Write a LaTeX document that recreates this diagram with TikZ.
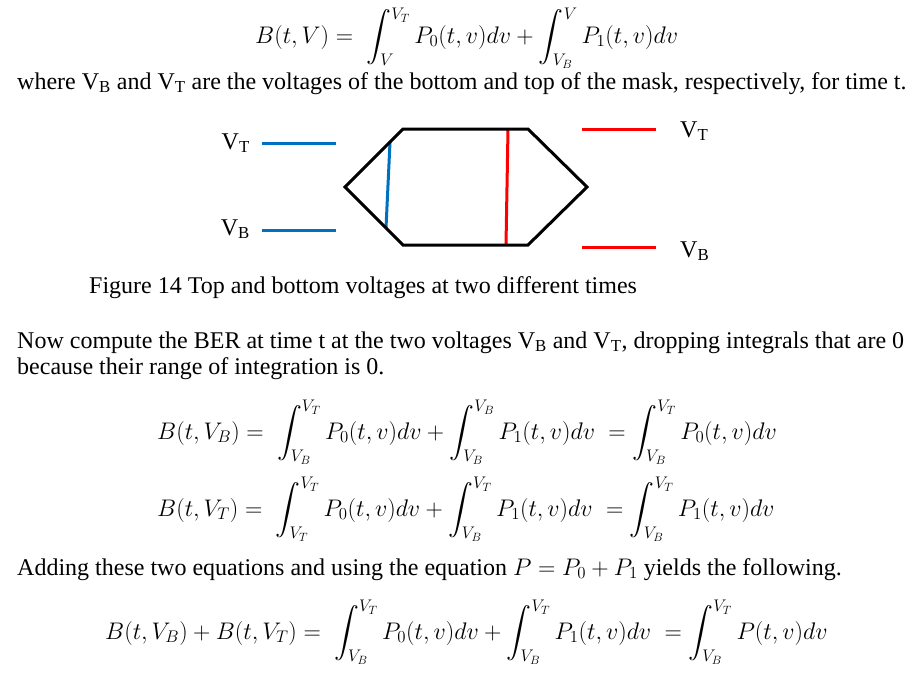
\RequirePackage{fix-cm}
\documentclass[tikz,border=0pt]{standalone}
\usepackage{amsmath}
\usepackage{fontspec}
\setmainfont{Liberation Serif}
\usepackage{tikz}
\usetikzlibrary{calc}
\definecolor{vblue}{RGB}{0,112,192}
\definecolor{vred}{RGB}{255,0,0}
\newcommand{\uplim}[1]{\raisebox{-4pt}{$\scriptstyle #1$}}
\tikzset{volt/.style={line width=3pt, line cap=butt},
  txt/.style={anchor=base west, inner sep=0pt, font=\fontsize{24}{28}\selectfont},
  eqn/.style={anchor=base west, inner sep=0pt, font=\fontsize{24}{28}\selectfont},
  vlab/.style={inner sep=0pt, font=\fontsize{24}{28}\selectfont}}

\begin{document}
\begin{tikzpicture}[x=1pt,y=-1pt]
  \useasboundingbox (0,0) rectangle (918,673);
  % text lines
  \foreach \x/\y/\lab/\tx in {
    17/89/where/{where V\textsubscript{B} and V\textsubscript{T} are the voltages of the bottom and top of the mask, respectively, for time t.},
    89/293/caption/{Figure 14 Top and bottom voltages at two different times},
    17/348/now/{Now compute the BER at time t at the two voltages V\textsubscript{B} and V\textsubscript{T}, dropping integrals that are 0},
    17/374/because/{because their range of integration is 0.},
    17/575/adding/{Adding these two equations and using the equation $P = P_0 + P_1$ yields the following.}%
  } {
    \node[txt] (\lab) at (\x, \y) {\tx};
  }
  % equations
  \foreach \x/\y/\lab/\tx in {
    255/43/eqV/{B(t,V) =\; \int_{V}^{\uplim{V_T}} P_0(t,v)dv + \int_{V_B}^{\uplim{V}} P_1(t,v)dv},
    157/439/eqB/{B(t,V_B) =\; \int_{V_B}^{V_T} P_0(t,v)dv + \int_{V_B}^{V_B} P_1(t,v)dv \;= \int_{V_B}^{V_T} P_0(t,v)dv},
    157/516/eqT/{B(t,V_T) =\; \int_{V_T}^{V_T} P_0(t,v)dv + \int_{V_B}^{V_T} P_1(t,v)dv \;= \int_{V_B}^{V_T} P_1(t,v)dv},
    105/639/eqS/{B(t,V_B) + B(t,V_T) =\; \int_{V_B}^{V_T} P_0(t,v)dv + \int_{V_B}^{V_T} P_1(t,v)dv \;= \int_{V_B}^{V_T} P(t,v)dv}%
  } {
    \node[eqn] (\lab) at (\x, \y) {$\displaystyle \tx$};
  }
  % mask
  \coordinate (L) at (345,187);
  \coordinate (TL) at (403,129);
  \coordinate (TR) at (528,129);
  \coordinate (R) at (587,187);
  \coordinate (BR) at (528,245);
  \coordinate (BL) at (403,245);
  \draw[volt, vblue] ($(L)!0.776!(TL)$) -- ($(L)!0.707!(BL)$);
  \draw[volt, vred] ($(TL)!0.84!(TR)$) -- ($(BL)!0.824!(BR)$);
  \draw[volt] (L) -- (TL) -- (TR) -- (R) -- (BR) -- (BL) -- cycle;
  % voltage levels
  \foreach \n/\x/\y/\c in {vt0/262/143/vblue, vb0/262/230/vblue, vt1/582/129/vred, vb1/582/247/vred} {
    \coordinate (\n) at (\x, \y);
    \draw[volt, \c] (\n) -- ++(74,0);
  }
  \node[vlab, anchor=base east] (vtl) at (250,149) {V\textsubscript{T}};
  \node[vlab, anchor=base east] (vbl) at (250,235) {V\textsubscript{B}};
  \node[vlab, anchor=base west] (vtr) at (680,137) {V\textsubscript{T}};
  \node[vlab, anchor=base west] (vbr) at (680,257) {V\textsubscript{B}};
\end{tikzpicture}
\end{document}
